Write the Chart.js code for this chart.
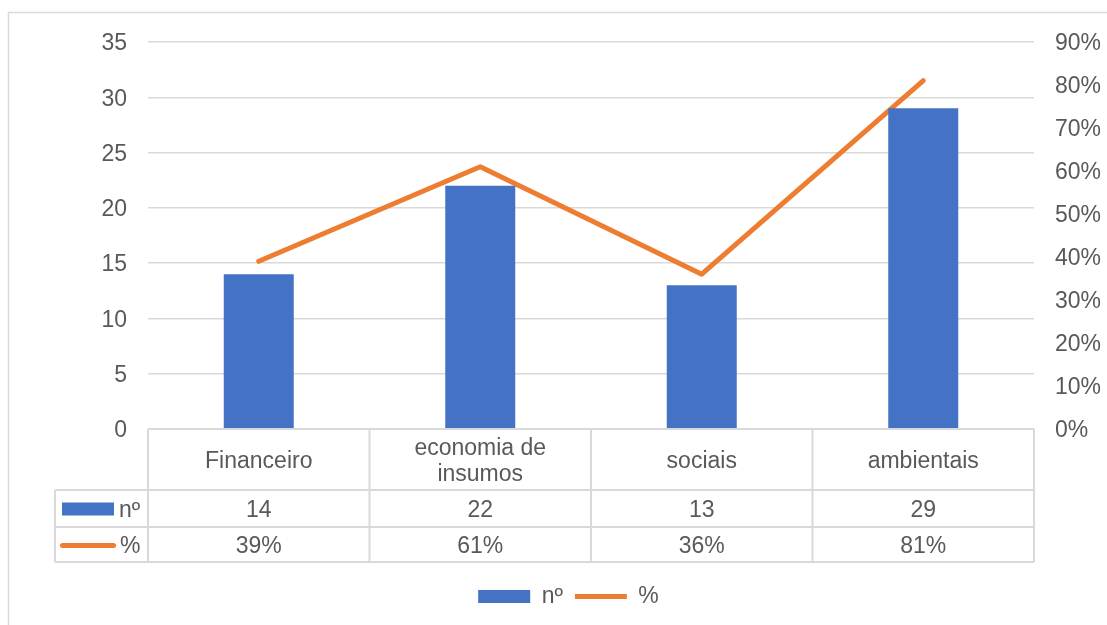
<!DOCTYPE html>
<html><head><meta charset="utf-8">
<script src="https://cdn.jsdelivr.net/npm/chart.js@4.4.0/dist/chart.umd.min.js"></script>
<style>html,body{margin:0;padding:0;background:#fff;}#wrap{width:1107px;height:625px;position:relative;}</style>
</head><body><div id="wrap"><canvas id="c" width="1107" height="625"></canvas></div>
<script>
const categories = ["Financeiro", ["economia de", "insumos"], "sociais", "ambientais"];
const countValues = [14, 22, 13, 29];
const pctValues = [0.39, 0.61, 0.36, 0.81];
const seriesNames = ["nº", "%"];
const leftTicks = {min: 0, max: 35, step: 5};
const rightTicks = {min: 0, max: 0.9, step: 0.1};

const BLUE = '#4472C4', ORANGE = '#ED7D31', TEXT = '#595959', GRID = '#d9d9d9';
const FONT = '"Liberation Sans", Arial, sans-serif';
const FS = 23;
Chart.defaults.font.family = FONT;
Chart.defaults.font.size = FS;
Chart.defaults.color = TEXT;

const fmtPct = v => Math.round(v * 100) + '%';

const framePlugin = {
  id: 'frame',
  beforeDraw(chart) {
    const ctx = chart.ctx;
    ctx.save();
    ctx.fillStyle = '#fff';
    ctx.fillRect(0, 0, chart.width, chart.height);
    ctx.strokeStyle = GRID;
    ctx.lineWidth = 1.5;
    ctx.strokeRect(8.5, 12.5, 1300, 800);
    ctx.restore();
  }
};

const legendShift = {
  id: 'legendShift',
  afterLayout(chart) {
    if (chart.legend) { chart.legend.left += 15; chart.legend.right += 15; }
  }
};

const tablePlugin = {
  id: 'dataTable',
  afterDraw(chart) {
    const ctx = chart.ctx;
    const xs = chart.scales.x;
    const top = chart.chartArea.bottom;
    const n = chart.data.labels.length;
    const half = (xs.getPixelForValue(1) - xs.getPixelForValue(0)) / 2;
    const left = xs.getPixelForValue(0) - half;
    const right = xs.getPixelForValue(n - 1) + half;
    const keyLeft = 55;
    const hdrB = top + 61, r1B = top + 98, r2B = top + 133;
    ctx.save();
    ctx.strokeStyle = GRID;
    ctx.lineWidth = 2;
    ctx.beginPath();
    ctx.moveTo(left, top); ctx.lineTo(right, top);
    ctx.moveTo(keyLeft, hdrB); ctx.lineTo(right, hdrB);
    ctx.moveTo(keyLeft, r1B); ctx.lineTo(right, r1B);
    ctx.moveTo(keyLeft, r2B); ctx.lineTo(right, r2B);
    ctx.moveTo(keyLeft, hdrB); ctx.lineTo(keyLeft, r2B);
    for (let i = 0; i <= n; i++) {
      const x = i < n ? xs.getPixelForValue(i) - half : right;
      ctx.moveTo(x, top); ctx.lineTo(x, r2B);
    }
    ctx.stroke();

    ctx.fillStyle = TEXT;
    ctx.font = FS + 'px ' + FONT;
    ctx.textAlign = 'center';
    ctx.textBaseline = 'middle';
    const dy = 2;
    const hdrC = (top + hdrB) / 2 + dy;
    const r1C = (hdrB + r1B) / 2 + dy, r2C = (r1B + r2B) / 2 + dy;
    const lh = 26;
    chart.data.labels.forEach((lab, i) => {
      const cx = xs.getPixelForValue(i);
      const lines = Array.isArray(lab) ? lab : [lab];
      lines.forEach((t, k) => {
        ctx.fillText(t, cx, hdrC + (k - (lines.length - 1) / 2) * lh);
      });
      ctx.fillText(String(countValues[i]), cx, r1C);
      ctx.fillText(fmtPct(pctValues[i]), cx, r2C);
    });
    ctx.fillStyle = BLUE;
    ctx.fillRect(62, r1C - 8, 52, 13);
    ctx.strokeStyle = ORANGE;
    ctx.lineWidth = 5;
    ctx.lineCap = 'round';
    ctx.beginPath();
    ctx.moveTo(62.5, r2C - 1); ctx.lineTo(113.5, r2C - 1);
    ctx.stroke();
    ctx.fillStyle = TEXT;
    ctx.textAlign = 'left';
    ctx.fillText(seriesNames[0], 119, r1C);
    ctx.fillText(seriesNames[1], 120, r2C);
    ctx.restore();
  }
};

new Chart(document.getElementById('c'), {
  type: 'bar',
  data: {
    labels: categories,
    datasets: [
      {
        label: seriesNames[0],
        data: countValues,
        backgroundColor: BLUE,
        borderWidth: 0,
        yAxisID: 'y',
        categoryPercentage: 1,
        barPercentage: 0.316,
        pointStyle: 'rect'
      },
      {
        type: 'line',
        label: seriesNames[1],
        data: pctValues,
        borderColor: ORANGE,
        backgroundColor: ORANGE,
        borderWidth: 5,
        borderCapStyle: 'round',
        borderJoinStyle: 'round',
        tension: 0,
        pointRadius: 0,
        pointHoverRadius: 0,
        pointStyle: 'line',
        yAxisID: 'y1'
      }
    ]
  },
  options: {
    responsive: false,
    animation: false,
    devicePixelRatio: 1,
    layout: {padding: {left: 0, right: 0, top: 42, bottom: 7}},
    plugins: {
      tooltip: {enabled: false},
      legend: {
        position: 'bottom',
        labels: {
          usePointStyle: true,
          pointStyleWidth: 52,
          boxHeight: 13,
          padding: 12,
          color: TEXT,
          font: {size: FS}
        }
      }
    },
    scales: {
      x: {
        ticks: {display: false},
        grid: {display: false},
        border: {display: false},
        afterFit(s) { s.height = 144; }
      },
      y: {
        position: 'left',
        min: leftTicks.min, max: leftTicks.max,
        ticks: {stepSize: leftTicks.step, padding: 21, labelOffset: 2, color: TEXT, font: {size: FS}},
        grid: {color: GRID, lineWidth: 1.5, drawTicks: false},
        border: {display: false},
        afterFit(s) { s.width = 148; }
      },
      y1: {
        position: 'right',
        min: rightTicks.min, max: rightTicks.max,
        ticks: {stepSize: rightTicks.step, padding: 21, labelOffset: 2, color: TEXT, font: {size: FS}, callback: v => fmtPct(v)},
        grid: {display: false, drawTicks: false},
        border: {display: false},
        afterFit(s) { s.width = 73; }
      }
    }
  },
  plugins: [framePlugin, legendShift, tablePlugin]
});
</script>
</body></html>
